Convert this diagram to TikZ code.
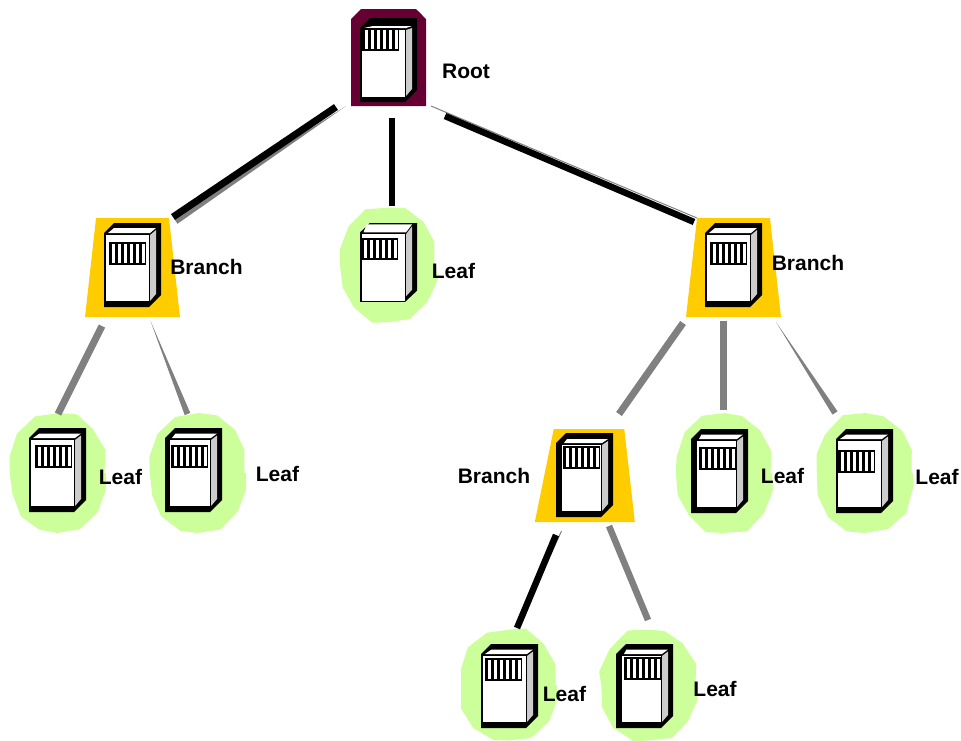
\documentclass[tikz,border=0pt]{standalone}
\usepackage{fontspec}
\setmainfont{Liberation Sans}
\usetikzlibrary{shapes.geometric,shapes.misc,decorations.pathmorphing,calc}
\definecolor{rootred}{HTML}{660033}
\definecolor{branchgold}{HTML}{FFCC00}
\definecolor{leafgreen}{HTML}{CCFF99}
\definecolor{linkgray}{HTML}{808080}
\def\linkwedge#1#2#3{\fill[linkgray] (#1) -- ($(#2)!#3pt!90:(#1)$) -- ($(#2)!#3pt!-90:(#1)$) -- cycle;}
\tikzset{
  pics/server/.style n args={5}{code={
    \fill[black] (0,10) -- (10,0) -- (57,0) -- (57,72) -- (45,84) -- (0,84) -- cycle;
    \fill[white] (#1+2,10) -- (#5+5,#5) -- (52,#5) -- (46,10) -- cycle;
    \fill[black!20] (46,12) -- (52,#5+2) -- (52,71) -- (46,78) -- cycle;
    \fill[white] (#1,12) rectangle (45,84-#2);
    \fill[black] (#4,#3) rectangle ++(37,23);
    \foreach \s in {0,...,5}
        \fill[white] (#4+2.5+\s*6,#3+2) rectangle ++(3,19);
  }}
}
\begin{document}
\begin{tikzpicture}[x=1pt,y=-1pt]
    \tikzstyle{annot}=[font=\bfseries\fontsize{21}{24}\selectfont,inner sep=0pt]
    \tikzstyle{root shape}=[chamfered rectangle,chamfered rectangle corners={north west,north east},
        chamfered rectangle xsep=6pt,chamfered rectangle ysep=4pt,fill=rootred,inner sep=0pt,minimum width=75pt,minimum height=97pt]
    \tikzstyle{branch shape}=[trapezium,trapezium stretches=true,fill=branchgold,inner sep=1pt,outer sep=0pt]
    \tikzstyle{leaf shape}=[ellipse,fill=leafgreen,inner sep=0pt,minimum width=93pt,
        decorate,decoration={random steps,segment length=22pt,amplitude=1.5pt}]
    \tikzstyle{black link}=[black,line width=7pt]
    \tikzstyle{gray link}=[linkgray,line width=7pt]
    \pgfmathsetseed{11}
    \useasboundingbox (0,0) rectangle (961,740);

    % Draw the shapes behind the servers
    \node[root shape] (root) at (388.5,57.5) {\phantom{\rule{60pt}{85pt}}};
    \foreach \name/\x/\y in {branchL/132.5/267.5,branchR/733.5/267.5}
        \node[branch shape,trapezium left angle=81.4,trapezium right angle=81.4,
            minimum width=95pt,minimum height=99pt] (\name) at (\x,\y) {};
    \node[branch shape,trapezium left angle=75,trapezium right angle=81.5,
        minimum width=100pt,minimum height=93pt] (branchM) at (589,475.5) {};
    \foreach \name/\x/\y/\h in {leafM/388/265/110,leafA/58/473/114,leafB/198/473/114,
        leafC/724/473/114,leafD/865/473/114,leafE/509/685/107,leafF/649/685/107}
        \node[leaf shape,minimum height=\h pt] (\name) at (\x,\y) {};

    % Free ends of the connectors
    \foreach \name/\x/\y in {rootL/336/107,rootLs/346/106,branchLt/173/217,branchLs/175/220,
        rootM/391.5/118,leafMt/391.5/206,rootR/445/116,rootRs/431/106,branchRt/694/222,branchRs/697/218,
        branchLa/102/326,leafAt/58/414,branchLb/150.5/321,leafBt/187.5/414,
        branchRa/683/323,branchMt/619/414,branchRb/723.5/321,leafCt/723.5/410,branchRc/776/322,leafDt/835/413,
        branchMa/556/535,branchMs/561.5/531,leafEt/517/628,branchMb/609/526,leafFt/648/620}
        \coordinate (\name) at (\x,\y);

    % Connect the shapes
    \linkwedge{rootLs}{branchLs}{4.5}
    \draw[black link] (rootL) -- (branchLt);
    \draw[black link,line width=6pt] (rootM) -- (leafMt);
    \draw[linkgray,line width=1pt] (rootRs) -- (branchRs);
    \draw[black link,line width=6.5pt] (rootR) -- (branchRt);
    \draw[gray link] (branchLa) -- (leafAt);
    \linkwedge{branchLb}{leafBt}{3}
    \draw[gray link] (branchRa) -- (branchMt);
    \draw[gray link] (branchRb) -- (leafCt);
    \linkwedge{branchRc}{leafDt}{3}
    \draw[linkgray,line width=1pt] (branchMs) -- (leafEt);
    \draw[black link,line width=6.5pt] (branchMa) -- (leafEt);
    \draw[gray link,line width=6.5pt] (branchMb) -- (leafFt);

    % Draw the servers
    \foreach \x/\y/\f/\b/\py/\px/\t in {360/18/2/5/10/2/8,104/223/2/6/19/5/5,705/223/2/6/19/5/5,
        29/428/2/6/17/6/5.5,165/428/5/6/17/6/5.5,556/433/6/6/13/7/6,691/429/6/6/18/8/5.5,
        836/429/2/6/21/2/5.5,481/644/2/6/14/4/5.5,616/644/6/6/13/8/5.5}
        \pic at (\x,\y) {server={\f}{\b}{\py}{\px}{\t}};
    \pic[yscale=0.94] at (360,223) {server={1.5}{1.5}{16}{1}{1.5}};

    % Annotate the servers
    \node[annot] (root-label) at (466,71) {Root};
    \foreach \name/\x/\y in {L/206.5/267,R/808/263,M/494/476}
        \node[annot] (branch\name-label) at (\x,\y) {Branch};
    \foreach \name/\x/\y in {M/453.5/271,A/120.5/477,B/277.5/474,C/782.5/476,D/937/477,E/564.5/694,F/715/689}
        \node[annot] (leaf\name-label) at (\x,\y) {Leaf};
\end{tikzpicture}
\end{document}
